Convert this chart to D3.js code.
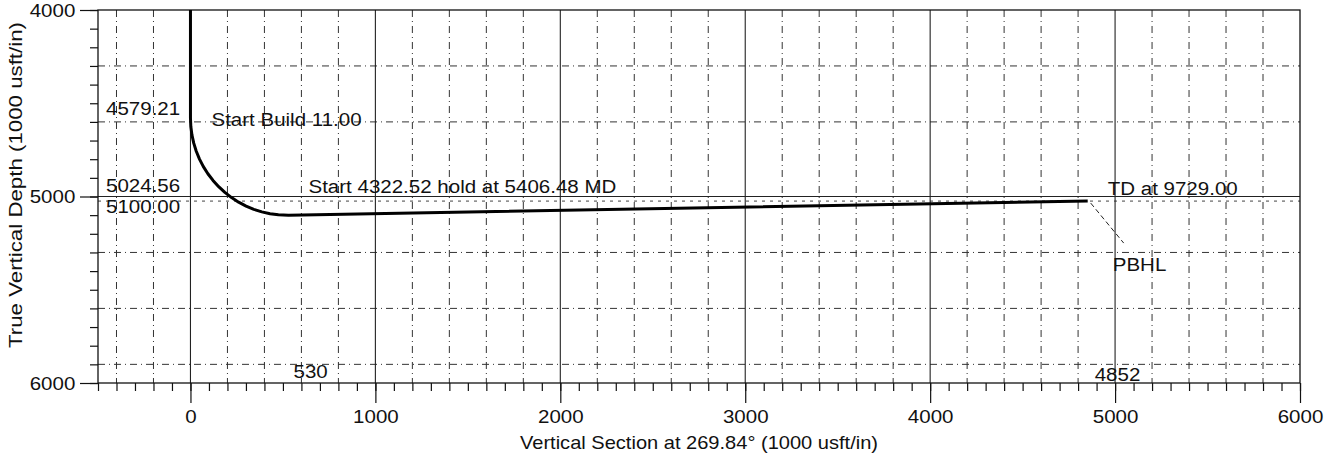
<!DOCTYPE html>
<html>
<head>
<meta charset="utf-8">
<script src="https://cdn.jsdelivr.net/npm/d3@7"></script>
<style>
  body { margin: 0; background: #fff; }
  svg { display: block; }
  text { font-family: "Liberation Sans", Arial, sans-serif; font-size: 19px; fill: #111; }
  .axis path, .axis line { stroke: #111; stroke-width: 1.2; }
</style>
</head>
<body>
<script>

// DATA
var vsLabels = [0, 1000, 2000, 3000, 4000, 5000, 6000];
var tvdMajor = [4000, 5000, 6000];
var vsGridSolid = [0, 1000, 2000, 3000, 4000, 5000];
var vsGridDashed = [-400, -200, 200, 400, 600, 800, 1200, 1400, 1600, 1800, 2200, 2400, 2600, 2800,
                    3200, 3400, 3600, 3800, 4200, 4400, 4600, 4800, 5200, 5400, 5600, 5800];
var tvdGridDashed = [4300, 4600, 5300, 5600, 5900];

// well path: vertical section vs true vertical depth
var pathVS  = [0, 0, 1.98, 7.91, 17.75, 31.41, 48.80, 69.78, 94.20, 121.86, 152.56, 186.06,
               222.11, 260.44, 300.74, 342.72, 386.06, 430.42, 475.47, 529.96, 4852];
var pathTVD = [4000, 4579.21, 4624.61, 4669.66, 4714.02, 4757.36, 4799.34, 4839.65, 4877.97,
               4914.02, 4947.52, 4978.22, 5005.88, 5030.30, 5051.28, 5068.67, 5082.33, 5092.17,
               5098.10, 5100.00, 5024.56];

var buildTVD = 4579.21, holdTVD = 5100.00, targetTVD = 5024.56;
var holdVS = 530, tdVS = 4852;

var width = 1328, height = 463;
var margin = {left: 98, right: 1300, top: 10, bottom: 383};

var svg = d3.select("body").append("svg").attr("width", width).attr("height", height);

//SCALES
var xScale = d3.scaleLinear().domain([-500, 6000]).range([margin.left, margin.right]);
var yScale = d3.scaleLinear().domain([4000, 6000]).range([margin.top, margin.bottom]);

var minorVS = d3.range(-500, 6001, 100);
var minorTVD = d3.range(4000, 6001, 100);

//GRID
var grid = svg.append("g");

grid.selectAll(".vdash").data(vsGridDashed).enter().append("line")
    .attr("x1", function(d){return xScale(d);}).attr("x2", function(d){return xScale(d);})
    .attr("y1", margin.top).attr("y2", margin.bottom)
    .attr("stroke", "#333").attr("stroke-width", 1).attr("stroke-dasharray", "7,4,1,4");

grid.selectAll(".hdash").data(tvdGridDashed).enter().append("line")
    .attr("x1", margin.left).attr("x2", margin.right)
    .attr("y1", function(d){return yScale(d);}).attr("y2", function(d){return yScale(d);})
    .attr("stroke", "#333").attr("stroke-width", 1).attr("stroke-dasharray", "7,4,1,4");

// target depth line
grid.append("line")
    .attr("x1", margin.left).attr("x2", margin.right)
    .attr("y1", yScale(targetTVD)).attr("y2", yScale(targetTVD))
    .attr("stroke", "#444").attr("stroke-width", 1).attr("stroke-dasharray", "3,5");

grid.selectAll(".vsolid").data(vsGridSolid).enter().append("line")
    .attr("x1", function(d){return xScale(d);}).attr("x2", function(d){return xScale(d);})
    .attr("y1", margin.top).attr("y2", margin.bottom)
    .attr("stroke", "#222").attr("stroke-width", 1.1);

grid.append("line")
    .attr("x1", margin.left).attr("x2", margin.right)
    .attr("y1", yScale(5000)).attr("y2", yScale(5000))
    .attr("stroke", "#222").attr("stroke-width", 1.1);

// frame
svg.append("rect").attr("x", margin.left).attr("y", margin.top)
    .attr("width", margin.right - margin.left).attr("height", margin.bottom - margin.top)
    .attr("fill", "none").attr("stroke", "#111").attr("stroke-width", 1.3);

//AXIS
var xMinor = d3.axisBottom(xScale).tickValues(minorVS).tickSize(8).tickFormat("").tickSizeOuter(0);
var xMajor = d3.axisBottom(xScale).tickValues(vsLabels).tickSize(20).tickPadding(7)
    .tickFormat(d3.format("d")).tickSizeOuter(0);
var yMinor = d3.axisLeft(yScale).tickValues(minorTVD).tickSize(8).tickFormat("").tickSizeOuter(0);
var yMajor = d3.axisLeft(yScale).tickValues(tvdMajor).tickSize(18).tickPadding(3)
    .tickFormat(d3.format("d")).tickSizeOuter(0);

svg.append("g").attr("class", "axis").attr("transform", "translate(0," + margin.bottom + ")").call(xMinor);
var gx = svg.append("g").attr("class", "axis").attr("transform", "translate(0," + margin.bottom + ")").call(xMajor);
svg.append("g").attr("class", "axis").attr("transform", "translate(" + margin.left + ",0)").call(yMinor);
var gy = svg.append("g").attr("class", "axis").attr("transform", "translate(" + margin.left + ",0)").call(yMajor);

svg.selectAll(".axis .domain").remove();
gx.selectAll("text").attr("font-size", 19).attr("font-family", null).attr("transform", "scale(1.08,1)");
gy.selectAll("text").attr("font-size", 19).attr("font-family", null).attr("transform", "scale(1.08,1)");

// axis titles
svg.append("text")
    .attr("x", (margin.left + margin.right) / 2).attr("y", 449)
    .attr("text-anchor", "middle")
    .attr("textLength", 358).attr("lengthAdjust", "spacingAndGlyphs")
    .text("Vertical Section at 269.84° (1000 usft/in)");

svg.append("text")
    .attr("transform", "translate(22,185) rotate(-90)")
    .attr("text-anchor", "middle")
    .attr("textLength", 326).attr("lengthAdjust", "spacingAndGlyphs")
    .text("True Vertical Depth (1000 usft/in)");

//WELL PATH
var line = d3.line()
    .x(function(d){return xScale(d[0]);})
    .y(function(d){return yScale(d[1]);});

var pts = pathVS.map(function(v, i){return [v, pathTVD[i]];});

svg.append("path")
    .attr("d", line(pts))
    .attr("fill", "none").attr("stroke", "#000").attr("stroke-width", 3)
    .attr("stroke-linejoin", "round");

// PBHL leader
var tdX = xScale(tdVS), tdY = yScale(targetTVD);
svg.append("line")
    .attr("x1", tdX + 3).attr("y1", tdY + 2).attr("x2", tdX + 36).attr("y2", tdY + 42)
    .attr("stroke", "#222").attr("stroke-width", 1).attr("stroke-dasharray", "5,3");

//LABELS
function note(x, y, str) {
    svg.append("text")
        .attr("transform", "translate(" + x + "," + y + ") scale(1.08,1)")
        .text(str);
}

note(margin.left + 8, yScale(buildTVD) - 3, "4579.21");
note(xScale(0) + 21, yScale(buildTVD) + 8, "Start Build 11.00");
note(margin.left + 8, yScale(targetTVD) - 9, "5024.56");
note(margin.left + 8, yScale(holdTVD) - 2, "5100.00");
note(xScale(holdVS) + 20, yScale(targetTVD) - 8, "Start 4322.52 hold at 5406.48 MD");
note(tdX + 20, tdY - 6, "TD at 9729.00");
note(tdX + 25, 271, "PBHL");
note(xScale(holdVS) + 5, margin.bottom - 5, "530");
note(tdX + 7, margin.bottom - 2, "4852");

</script>
</body>
</html>
